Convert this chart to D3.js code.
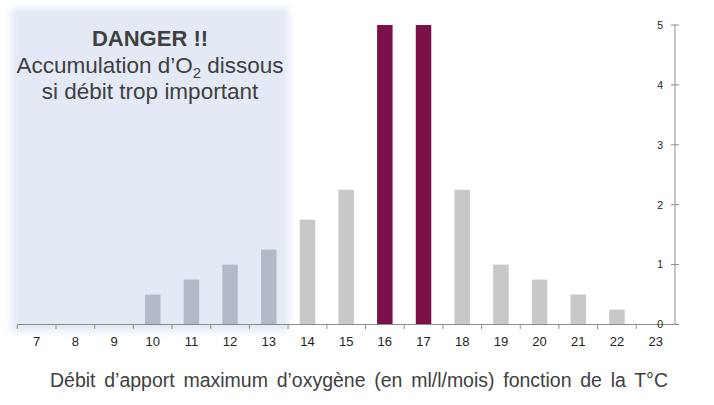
<!DOCTYPE html>
<html>
<head>
<meta charset="utf-8">
<script src="https://cdn.jsdelivr.net/npm/d3@7"></script>
<style>
  html, body { margin: 0; padding: 0; background: #fff; }
  svg { display: block; font-family: "Liberation Sans", Arial, sans-serif; }
</style>
</head>
<body>
<svg id="chart" width="714" height="405"></svg>
<script>
// ---- data ----
const categories = [7, 8, 9, 10, 11, 12, 13, 14, 15, 16, 17, 18, 19, 20, 21, 22, 23];
const values     = [0, 0, 0, 0.5, 0.75, 1.0, 1.25, 1.75, 2.25, 5, 5, 2.25, 1.0, 0.75, 0.5, 0.25, 0];
const yTicks     = [0, 1, 2, 3, 4, 5];
const dangerLimit = 13;
const xTitle = "Débit d\u2019apport maximum d\u2019oxygène (en ml/l/mois) fonction de la T°C";

(function () {
const data = categories.map((c, i) => ({ cat: c, value: values[i] }));

const svg = d3.select("#chart");
const mLeft = 17.3, mRight = 675, mTop = 25, mBottom = 324.5;

const x = d3.scaleBand()
  .domain(categories)
  .range([mLeft, mRight])
  .paddingInner(0.6)
  .paddingOuter(0.3);

const y = d3.scaleLinear().domain([0, 5]).range([mBottom, mTop]);

// ---- danger overlay ----
const defs = svg.append("defs");
defs.append("filter").attr("id", "blur")
  .attr("x", "-10%").attr("y", "-10%").attr("width", "120%").attr("height", "120%")
  .append("feGaussianBlur").attr("stdDeviation", 3.5);

svg.append("rect")
  .attr("x", 11).attr("y", 8)
  .attr("width", 278).attr("height", 324)
  .attr("fill", "#e3eaf6")
  .attr("filter", "url(#blur)");

// ---- bars ----
const maxV = d3.max(values);
svg.append("g").selectAll("rect")
  .data(data.filter(d => d.value > 0))
  .join("rect")
  .attr("x", d => x(d.cat))
  .attr("width", x.bandwidth())
  .attr("y", d => y(d.value))
  .attr("height", d => y(0) - y(d.value))
  .attr("fill", d => d.value === maxV ? "#7b0f47" : (d.cat <= dangerLimit ? "#b3bac7" : "#c8c8c8"));

// ---- x axis ----
const axisColor = "#8c8c8c";
const gx = svg.append("g");
gx.append("line")
  .attr("x1", mLeft).attr("x2", mRight)
  .attr("y1", mBottom).attr("y2", mBottom)
  .attr("stroke", axisColor).attr("stroke-width", 1);
gx.selectAll("line.tick")
  .data(categories)
  .join("line")
  .attr("class", "tick")
  .attr("x1", (c, i) => mLeft + i * x.step())
  .attr("x2", (c, i) => mLeft + i * x.step())
  .attr("y1", mBottom).attr("y2", mBottom + 4.5)
  .attr("stroke", axisColor);
gx.selectAll("text")
  .data(categories)
  .join("text")
  .attr("x", c => x(c) + x.bandwidth() / 2)
  .attr("y", 345.5)
  .attr("text-anchor", "middle")
  .attr("font-size", 13)
  .attr("fill", "#222")
  .text(c => c);

// ---- y axis (right) ----
const gy = svg.append("g");
gy.append("line")
  .attr("x1", mRight).attr("x2", mRight)
  .attr("y1", y(5)).attr("y2", mBottom)
  .attr("stroke", axisColor);
gy.selectAll("line.tick")
  .data(yTicks)
  .join("line")
  .attr("class", "tick")
  .attr("x1", mRight - 4).attr("x2", mRight + 4)
  .attr("y1", d => y(d)).attr("y2", d => y(d))
  .attr("stroke", axisColor);
gy.selectAll("text")
  .data(yTicks)
  .join("text")
  .attr("x", 663)
  .attr("y", d => y(d) + 3.8)
  .attr("text-anchor", "end")
  .attr("font-size", 10.5)
  .attr("fill", "#222")
  .text(d => d);

// ---- x title (wide word spacing) ----
const title = svg.append("text")
  .attr("x", 50).attr("y", 387)
  .attr("font-size", 19.5)
  .attr("fill", "#404040")
  .text(xTitle);
const natural = title.node().getComputedTextLength();
const nSpaces = (xTitle.match(/ /g) || []).length;
title.attr("word-spacing", Math.max(0, (618 - natural) / nSpaces));

// ---- danger text ----
const t = svg.append("g").attr("fill", "#404040").attr("text-anchor", "middle").attr("font-size", 22.5);
t.append("text").attr("x", 150).attr("y", 46).attr("font-weight", "bold").attr("font-size", 22).text("DANGER !!");
const l2 = t.append("text").attr("x", 150).attr("y", 72.5);
l2.append("tspan").text("Accumulation d\u2019O");
l2.append("tspan").attr("font-size", 15).attr("dy", 5).text("2");
l2.append("tspan").attr("dy", -5).text(" dissous");
t.append("text").attr("x", 150).attr("y", 99).text("si débit trop important");
})();
</script>
</body>
</html>
